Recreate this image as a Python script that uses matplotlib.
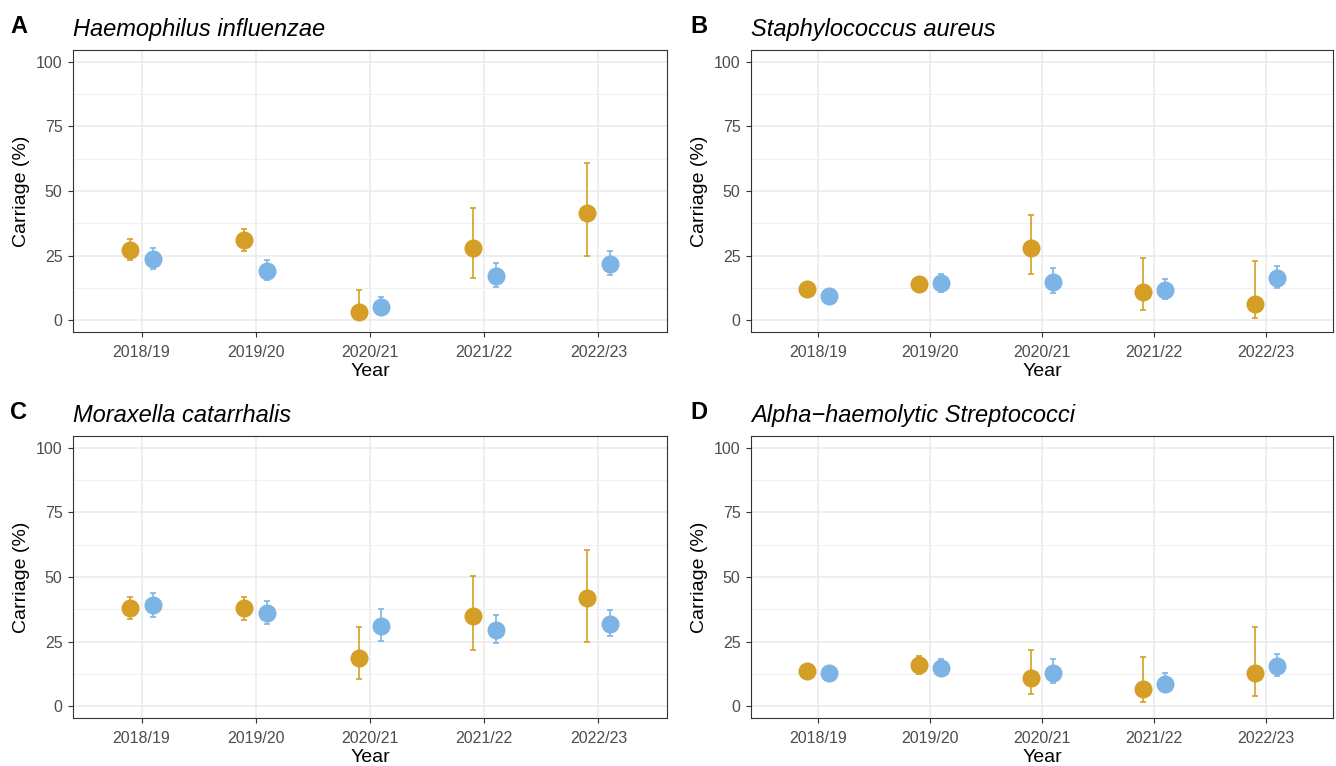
import matplotlib
matplotlib.use("Agg")
import matplotlib.pyplot as plt
from matplotlib.ticker import MultipleLocator
import numpy as np

plt.rcParams['font.family'] = ['Liberation Sans', 'DejaVu Sans']

years = ["2018/19", "2019/20", "2020/21", "2021/22", "2022/23"]

# Panel A: Haemophilus influenzae
a_orange = [27.2, 31.0, 3.0, 28.0, 41.6]
a_orange_lo = [23.4, 26.7, 0.5, 16.3, 24.8]
a_orange_hi = [31.5, 35.4, 11.8, 43.5, 60.8]
a_blue = [23.8, 19.0, 5.0, 17.1, 21.8]
a_blue_lo = [19.8, 15.4, 2.0, 12.9, 17.4]
a_blue_hi = [28.0, 23.1, 9.0, 22.2, 26.7]

# Panel B: Staphylococcus aureus
b_orange = [11.9, 13.8, 28.0, 10.7, 6.3]
b_orange_lo = [9.5, 11.5, 17.7, 3.9, 0.9]
b_orange_hi = [14.5, 16.3, 40.8, 24.1, 22.7]
b_blue = [9.2, 14.2, 14.6, 11.6, 16.3]
b_blue_lo = [7.2, 11.0, 10.5, 8.0, 12.4]
b_blue_hi = [11.3, 18.0, 20.3, 16.0, 20.8]

# Panel C: Moraxella catarrhalis
c_orange = [37.9, 37.9, 18.7, 34.8, 41.9]
c_orange_lo = [33.7, 33.4, 10.5, 21.7, 24.9]
c_orange_hi = [42.4, 42.4, 30.7, 50.4, 60.6]
c_blue = [39.1, 36.2, 31.0, 29.5, 31.9]
c_blue_lo = [34.6, 31.9, 25.2, 24.3, 27.0]
c_blue_hi = [43.9, 40.8, 37.6, 35.1, 37.2]

# Panel D: Alpha-haemolytic Streptococci
d_orange = [13.6, 15.9, 10.9, 6.5, 12.8]
d_orange_lo = [11.0, 12.5, 4.8, 1.7, 4.1]
d_orange_hi = [16.0, 19.5, 21.8, 18.9, 30.7]
d_blue = [12.7, 14.6, 13.0, 8.6, 15.4]
d_blue_lo = [10.0, 11.5, 9.0, 5.5, 11.7]
d_blue_hi = [15.5, 18.2, 18.3, 12.8, 20.0]

titles = ["Haemophilus influenzae", "Staphylococcus aureus",
          "Moraxella catarrhalis", "Alpha\u2212haemolytic Streptococci"]
letters = ["A", "B", "C", "D"]

ORANGE = "#D59F27"
BLUE = "#7DB4E6"

W, H = 1336, 766
fig = plt.figure(figsize=(W / 100, H / 100), dpi=100)

def rect(l, t, r, b):
    return [l / W, 1 - b / H, (r - l) / W, (b - t) / H]

rects = [rect(73, 50, 667, 332), rect(751, 50, 1333, 332),
         rect(73, 436, 667, 718), rect(751, 436, 1333, 718)]

panels = [
    (a_orange, a_orange_lo, a_orange_hi, a_blue, a_blue_lo, a_blue_hi),
    (b_orange, b_orange_lo, b_orange_hi, b_blue, b_blue_lo, b_blue_hi),
    (c_orange, c_orange_lo, c_orange_hi, c_blue, c_blue_lo, c_blue_hi),
    (d_orange, d_orange_lo, d_orange_hi, d_blue, d_blue_lo, d_blue_hi),
]

x = np.arange(1, len(years) + 1)
dodge = 0.1

for i, (r, data) in enumerate(zip(rects, panels)):
    ax = fig.add_axes(r)
    o, olo, ohi, b, blo, bhi = [np.array(v) for v in data]
    for xs, est, lo, hi, col in [(x - dodge, o, olo, ohi, ORANGE),
                                 (x + dodge, b, blo, bhi, BLUE)]:
        ax.errorbar(xs, est, yerr=[est - lo, hi - est], fmt='none',
                    ecolor=col, elinewidth=1.2, capsize=2.2, capthick=1.2, zorder=3)
        ax.plot(xs, est, 'o', color=col, markersize=13, markeredgewidth=0, zorder=4)
    ax.set_xlim(0.4, 5.6)
    ax.set_ylim(-4.6, 104.6)
    ax.set_xticks(x)
    ax.set_xticklabels(years)
    ax.set_yticks([0, 25, 50, 75, 100])
    ax.yaxis.set_minor_locator(MultipleLocator(12.5))
    ax.grid(True, which='major', color='#EBEBEB', linewidth=1.2, zorder=0)
    ax.grid(True, which='minor', axis='y', color='#F0F0F0', linewidth=0.8, zorder=0)
    ax.set_axisbelow(True)
    ax.tick_params(which='major', length=3.5, width=0.8, color='#333333',
                   labelcolor='#4D4D4D', labelsize=11.5, pad=4)
    ax.tick_params(axis='x', which='major', pad=6)
    ax.tick_params(which='minor', length=0)
    for s in ax.spines.values():
        s.set_color('#333333')
        s.set_linewidth(0.8)
    ax.set_xlabel("Year", fontsize=14, labelpad=2)
    ax.set_ylabel("Carriage (%)", fontsize=14, labelpad=4)
    ax.set_title(titles[i], fontsize=17, style='italic', loc='left', pad=10)
    lx = 10 if i % 2 == 0 else 690
    ty = 33 if i < 2 else 419
    fig.text(lx / W, 1 - ty / H, letters[i], fontsize=17, fontweight='bold',
             ha='left', va='baseline')

fig.savefig("out.png", dpi=100)
